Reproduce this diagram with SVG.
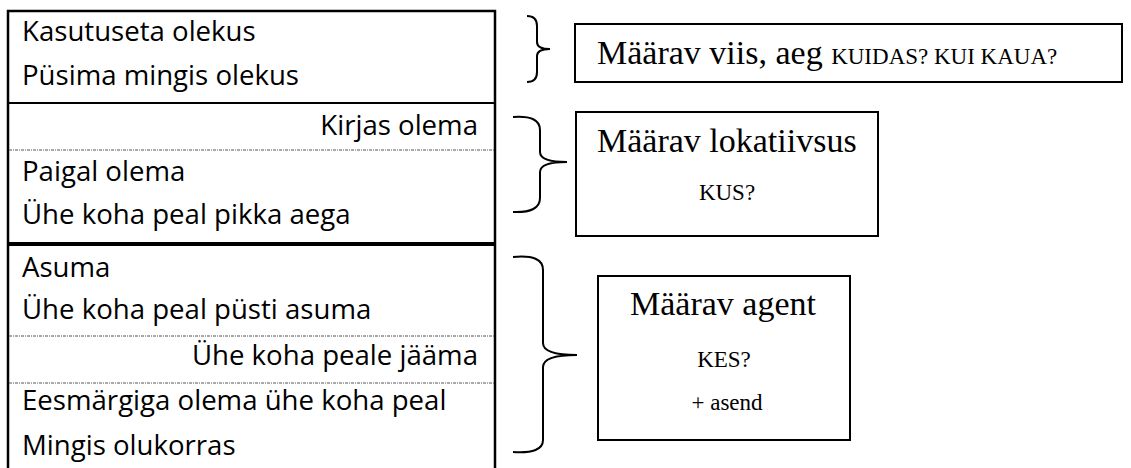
<svg xmlns="http://www.w3.org/2000/svg" width="1131" height="468" viewBox="0 0 1131 468">
<style>
.t{font-family:"Open Sans","Noto Sans","Liberation Sans",sans-serif;font-size:27.6px;fill:#000}
.r{text-anchor:end}
.s{font-family:"Liberation Serif","Times New Roman",serif;fill:#000}
.c{text-anchor:middle}
.big{font-size:34px}
.sm{font-size:23px}
.box{fill:#fff;stroke:#000;stroke-width:2}
.solid{stroke:#000;stroke-width:2}
.thick{stroke:#000;stroke-width:4}
.dot{stroke:#555;stroke-width:1;stroke-dasharray:3 1 1 1}
.br{fill:none;stroke:#000;stroke-width:2}
</style>
<rect width="1131" height="468" fill="#fff"/>
<g id="table">
<path d="M8,468 V11 H495 V468" fill="none" stroke="#000" stroke-width="2.5"/>
<line class="solid" x1="8" y1="103" x2="495" y2="103"/>
<line class="dot" x1="9" y1="150" x2="494" y2="150"/>
<line class="thick" x1="8" y1="244" x2="495" y2="244"/>
<line class="dot" x1="9" y1="336" x2="494" y2="336"/>
<line class="dot" x1="9" y1="383" x2="494" y2="383"/>
</g>
<g id="row1">
<text class="t" x="22" y="41">Kasutuseta olekus</text>
<text class="t" x="22" y="85">Püsima mingis olekus</text>
</g>
<g id="row2">
<text class="t r" x="478" y="135">Kirjas olema</text>
<text class="t" x="22" y="181">Paigal olema</text>
<text class="t" x="22" y="224">Ühe koha peal pikka aega</text>
</g>
<g id="row3">
<text class="t" x="22" y="277">Asuma</text>
<text class="t" x="22" y="319">Ühe koha peal püsti asuma</text>
<text class="t r" x="478" y="365">Ühe koha peale jääma</text>
<text class="t" x="22" y="410">Eesmärgiga olema ühe koha peal</text>
<text class="t" x="22" y="455">Mingis olukorras</text>
</g>
<g id="connectors">
<path class="br" d="M527,16 Q537,16 537,26 V42 Q537,49 550,49 Q537,49 537,56 V72 Q537,82 527,82"/>
<path class="br" d="M513,117 Q540,115 540,130 V152 Q540,162 567,162 Q540,162 540,172 V198 Q540,213 513,212"/>
<path class="br" d="M513,257 Q543,254 543,270 V343 Q543,355 577,355 Q543,355 543,367 V440 Q543,454 513,452"/>
</g>
<g id="box1">
<rect class="box" x="575" y="24" width="547" height="58"/>
<text class="s" x="597" y="64"><tspan class="big">Määrav viis, aeg </tspan><tspan class="sm">KUIDAS? KUI KAUA?</tspan></text>
</g>
<g id="box2">
<rect class="box" x="576" y="112" width="302" height="124"/>
<text class="s big" x="597" y="152">Määrav lokatiivsus</text>
<text class="s sm c" x="727" y="200">KUS?</text>
</g>
<g id="box3">
<rect class="box" x="598" y="276" width="252" height="164"/>
<text class="s big c" x="723" y="315">Määrav agent</text>
<text class="s sm c" x="724" y="367">KES?</text>
<text class="s sm c" x="727" y="410">+ asend</text>
</g>
</svg>
